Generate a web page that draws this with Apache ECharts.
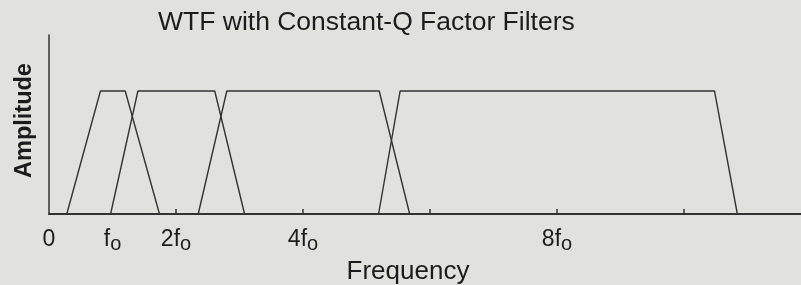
<!DOCTYPE html>
<html>
<head>
<meta charset="utf-8">
<script src="https://cdn.jsdelivr.net/npm/echarts@6/dist/echarts.min.js"></script>
<style>
  html, body { margin: 0; padding: 0; background: #e1e2dd; }
  #chart { width: 801px; height: 285px; }
</style>
</head>
<body>
<div id="chart"></div>
<script>
// filter corner frequencies, in multiples of f0 (rise start, rise end, fall start, fall end)
const filter1 = [0.28, 0.81, 1.2, 1.74];
const filter2 = [0.97, 1.4, 2.61, 3.08];
const filter3 = [2.35, 2.8, 5.2, 5.68];
const filter4 = [5.19, 5.53, 10.48, 10.84];
const shape = [0, 1, 1, 0];

const labelValues = [0, 1, 2, 4, 8];
const tickValues = [2, 4, 6, 8, 10];

const chart = echarts.init(document.getElementById("chart"));

const lineColor = "#333";
const font = "Liberation Sans, Arial, Helvetica, sans-serif";

const toSeries = (f) => ({
  type: "line",
  data: f.map((x, i) => [x, shape[i]]),
  symbol: "none",
  lineStyle: { color: lineColor, width: 1.4 },
  animation: false,
});

const option = {
  backgroundColor: "#e1e2dd",
  title: {
    text: "WTF with Constant-Q Factor Filters",
    left: 153,
    top: 4,
    textStyle: { fontFamily: font, fontSize: 26.5, fontWeight: "normal", color: "#1c1c1c" },
  },
  grid: { left: 49, right: -10, top: 35, bottom: 71, outerBoundsMode: "none" },
  xAxis: {
    type: "value",
    min: 0,
    max: 12,
    name: "Frequency",
    nameLocation: "middle",
    nameGap: 35,
    nameTextStyle: {
      fontFamily: font, fontSize: 26, color: "#1c1c1c",
      padding: [0, 44, 0, 0],
    },
    axisLine: { lineStyle: { color: lineColor, width: 2 } },
    axisTick: {
      show: true,
      inside: true,
      length: 5,
      customValues: tickValues,
      lineStyle: { color: lineColor, width: 1.5 },
    },
    splitLine: { show: false },
    axisLabel: {
      customValues: labelValues,
      margin: 14,
      formatter: (v) => {
        if (v === 0) return "{n|0}";
        return "{n|" + (v === 1 ? "" : v) + "f}{s|o}";
      },
      rich: {
        n: { fontFamily: font, fontSize: 23, lineHeight: 23, verticalAlign: "top", color: "#1c1c1c" },
        s: { fontFamily: font, fontSize: 20, lineHeight: 20, verticalAlign: "top", padding: [6, 0, 0, 0], color: "#1c1c1c" },
      },
    },
  },
  yAxis: {
    type: "value",
    min: 0,
    max: 1.455,
    name: "Amplitude",
    nameLocation: "middle",
    nameGap: 12,
    nameTextStyle: {
      fontFamily: font, fontSize: 23.5, fontWeight: "bold", color: "#1c1c1c",
      padding: [0, 0, 0, 8],
    },
    axisLine: { show: true, lineStyle: { color: lineColor, width: 1.5 } },
    axisTick: { show: false },
    axisLabel: { show: false },
    splitLine: { show: false },
  },
  series: [toSeries(filter1), toSeries(filter2), toSeries(filter3), toSeries(filter4)],
};

chart.setOption(option);
</script>
</body>
</html>
